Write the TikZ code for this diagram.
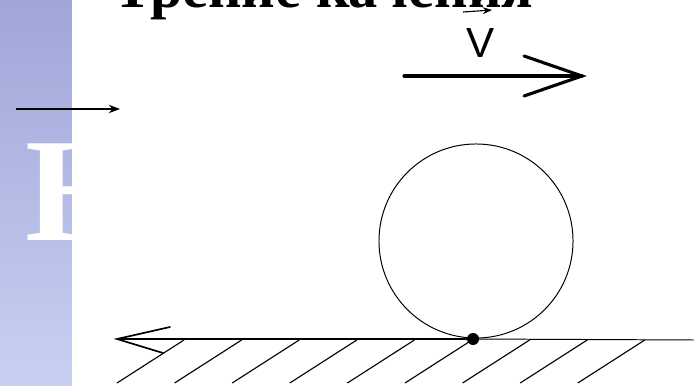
\documentclass[tikz,border=0pt]{standalone}
\usepackage{fontspec}
\setmainfont{Liberation Serif}
\newfontfamily\titlefont{Liberation Serif}
\newfontfamily\letterfont{Liberation Serif}
\newfontfamily\vfont{Liberation Sans}
\usetikzlibrary{arrows.meta, positioning}
\definecolor{bartop}{RGB}{160,166,216}
\definecolor{barbot}{RGB}{200,208,242}
\tikzset{
  thinline/.style={line width=0.7pt, color=black},
  thickline/.style={line width=2.1pt, color=black},
  hatch/.style={line width=0.8pt, color=black},
  barb/.style={line width=1.2pt, color=black, line cap=round},
  varrow/.style={line width=2.2pt, color=black, line cap=round}
}

\begin{document}
\begin{tikzpicture}[x=0.025cm, y=-0.025cm,
  wheel/.style={circle, draw, line width=0.7pt, minimum size=4.85cm, inner sep=0pt},
  dot/.style={circle, fill=black, minimum size=0.3cm, inner sep=0pt}]
  \useasboundingbox (0,0) rectangle (694,386);
  \clip (0,0) rectangle (694,386);

  % Side bar with big letter
  \shade[top color=bartop, bottom color=barbot] (0,0) rectangle (72,386);
  \node[anchor=base west, inner sep=0pt, text=white] (bigletter) at (25,240)
    {\letterfont\bfseries\fontsize{105}{105}\selectfont Н};
  \fill[white] (72,0) rectangle (694,386);

  % Title (cut at the top)
  \node[anchor=base west, inner sep=0pt] (title) at (113,8)
    {\resizebox{10.5cm}{!}{\titlefont\bfseries Трение качения}};

  % Small arrow on the left
  \coordinate (sa1) at (16,109);
  \coordinate (sa2) at (120,109);
  \draw[-Stealth, line width=1.1pt] (sa1) -- (sa2);

  % Velocity
  \node[anchor=base, inner sep=0pt] (vlabel) at (481,58)
    {\vfont\fontsize{30}{30}\selectfont V};
  \coordinate (vs1) at (463,12);
  \coordinate (vs2) at (492,10);
  \draw[-Stealth, line width=0.8pt] (vs1) -- (vs2);
  \coordinate (vstart) at (404,76);
  \coordinate (vend) at (582,76);
  \draw[varrow] (vstart) -- (vend);
  \draw[varrow] (524,56) -- (vend) -- (524,96);

  % Wheel and contact point
  \node[wheel] (wheel) at (476,241) {};
  \node[dot] (contact) at (473,339) {};

  % Ground
  \coordinate (gleft) at (117,339);
  \coordinate (gright) at (694,340);
  \draw[thickline] (contact.center) -- (gleft);
  \draw[thinline] (contact.center) -- (gright);
  \draw[barb] (170,327) -- (gleft) -- (163,353);
  \foreach \i in {0,...,8}
    \draw[hatch] (117+57.6*\i,383) -- ++(67,-43);
\end{tikzpicture}
\end{document}
